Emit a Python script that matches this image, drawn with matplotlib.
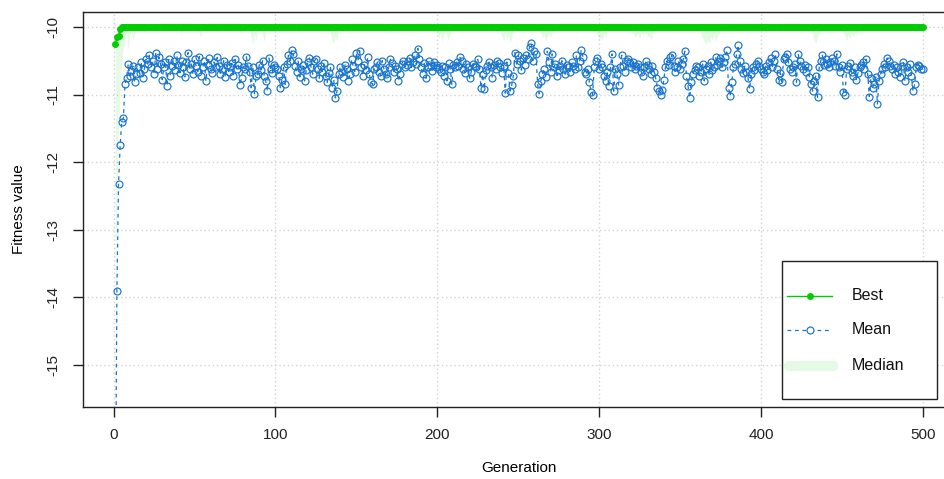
import matplotlib
matplotlib.use("Agg")
import matplotlib.pyplot as plt
from matplotlib.lines import Line2D
from matplotlib.patches import Rectangle
import numpy as np

plt.rcParams['font.family'] = ['Liberation Sans', 'DejaVu Sans']

generations = list(range(1, 501))

best_start = [-10.25, -10.15, -10.13, -10.03]
best = best_start + [-10.0] * (500 - len(best_start))

mean = [
    -17.5, -13.9, -12.32, -11.75, -11.4, -11.35, -10.85, -10.75, -10.55, -10.72, -10.65, -10.58, -10.82, -10.7, -10.6, -10.68, -10.52, -10.75, -10.62, -10.48,
    -10.55, -10.42, -10.6, -10.5, -10.7, -10.38, -10.62, -10.45, -10.55, -10.78, -10.6, -10.52, -10.87, -10.48, -10.72, -10.58, -10.5, -10.64, -10.42, -10.56,
    -10.68, -10.5, -10.6, -10.74, -10.52, -10.38, -10.62, -10.55, -10.7, -10.48, -10.58, -10.66, -10.44, -10.72, -10.6, -10.5, -10.8, -10.56, -10.46, -10.62,
    -10.68, -10.52, -10.6, -10.45, -10.58, -10.7, -10.62, -10.5, -10.74, -10.56, -10.66, -10.6, -10.54, -10.72, -10.48, -10.62, -10.56, -10.86, -10.76, -10.6,
    -10.62, -10.44, -10.58, -10.66, -10.9, -10.6, -10.99, -10.72, -10.7, -10.56, -10.64, -10.5, -10.72, -10.8, -10.95, -10.46, -10.62, -10.68, -10.56, -10.6,
    -10.62, -10.72, -10.9, -10.78, -10.6, -10.85, -10.55, -10.42, -10.5, -10.34, -10.4, -10.58, -10.66, -10.5, -10.74, -10.62, -10.56, -10.8, -10.64, -10.52,
    -10.46, -10.6, -10.7, -10.5, -10.48, -10.62, -10.76, -10.58, -10.66, -10.54, -10.72, -10.82, -10.68, -10.6, -10.9, -10.78, -11.05, -10.95, -10.7, -10.6,
    -10.66, -10.74, -10.56, -10.62, -10.8, -10.7, -10.48, -10.58, -10.66, -10.38, -10.5, -10.35, -10.6, -10.72, -10.56, -10.64, -10.45, -10.7, -10.82, -10.85,
    -10.62, -10.6, -10.52, -10.66, -10.72, -10.5, -10.62, -10.7, -10.76, -10.6, -10.48, -10.54, -10.66, -10.58, -10.62, -10.8, -10.7, -10.55, -10.5, -10.6,
    -10.56, -10.5, -10.46, -10.6, -10.52, -10.42, -10.55, -10.32, -10.48, -10.6, -10.7, -10.54, -10.76, -10.6, -10.5, -10.58, -10.65, -10.52, -10.6, -10.56,
    -10.62, -10.66, -10.58, -10.72, -10.6, -10.8, -10.54, -10.62, -10.85, -10.56, -10.6, -10.52, -10.58, -10.45, -10.5, -10.62, -10.68, -10.55, -10.6, -10.76,
    -10.66, -10.55, -10.58, -10.6, -10.48, -10.62, -10.9, -10.7, -10.92, -10.64, -10.58, -10.52, -10.6, -10.75, -10.56, -10.62, -10.5, -10.54, -10.6, -10.68,
    -10.58, -10.98, -10.52, -10.68, -10.95, -10.86, -10.72, -10.38, -10.55, -10.42, -10.5, -10.64, -10.46, -10.56, -10.42, -10.48, -10.3, -10.24, -10.5, -10.36,
    -10.4, -10.85, -10.99, -10.8, -10.7, -10.62, -10.74, -10.36, -10.52, -10.66, -10.4, -10.6, -10.55, -10.72, -10.64, -10.58, -10.5, -10.62, -10.7, -10.56,
    -10.6, -10.66, -10.52, -10.58, -10.62, -10.42, -10.6, -10.5, -10.34, -10.44, -10.66, -10.7, -10.62, -10.82, -10.96, -11.0, -10.6, -10.5, -10.46, -10.62,
    -10.55, -10.6, -10.72, -10.8, -10.66, -10.88, -10.6, -10.4, -10.95, -10.62, -10.7, -10.86, -10.6, -10.42, -10.58, -10.66, -10.5, -10.48, -10.54, -10.6,
    -10.52, -10.62, -10.58, -10.55, -10.6, -10.66, -10.72, -10.6, -10.5, -10.56, -10.62, -10.7, -10.58, -10.66, -10.76, -10.9, -10.95, -11.0, -10.94, -10.78,
    -10.6, -10.5, -10.56, -10.45, -10.42, -10.58, -10.66, -10.6, -10.5, -10.62, -10.55, -10.48, -10.36, -10.72, -10.88, -11.05, -10.82, -10.7, -10.64, -10.58,
    -10.6, -10.72, -10.66, -10.55, -10.8, -10.62, -10.58, -10.7, -10.52, -10.64, -10.6, -10.45, -10.56, -10.5, -10.46, -10.6, -10.52, -10.44, -10.34, -10.9,
    -11.02, -10.82, -10.6, -10.55, -10.4, -10.27, -10.5, -10.62, -10.68, -10.58, -10.66, -10.75, -10.92, -10.7, -10.6, -10.64, -10.55, -10.5, -10.58, -10.62,
    -10.66, -10.7, -10.58, -10.64, -10.52, -10.46, -10.6, -10.5, -10.4, -10.62, -10.78, -10.68, -10.81, -10.48, -10.44, -10.4, -10.52, -10.62, -10.66, -10.6,
    -10.55, -10.82, -10.4, -10.5, -10.58, -10.62, -10.56, -10.66, -10.6, -10.74, -10.85, -10.95, -10.8, -10.72, -11.04, -10.6, -10.5, -10.42, -10.56, -10.48,
    -10.55, -10.6, -10.52, -10.46, -10.5, -10.58, -10.4, -10.6, -10.66, -10.56, -10.96, -11.0, -10.62, -10.58, -10.54, -10.66, -10.72, -10.6, -10.78, -10.68,
    -10.6, -10.56, -10.52, -10.62, -10.48, -10.7, -11.03, -10.76, -10.9, -10.84, -10.74, -11.14, -10.8, -10.7, -10.62, -10.55, -10.6, -10.46, -10.5, -10.58,
    -10.62, -10.56, -10.7, -10.6, -10.66, -10.74, -10.58, -10.52, -10.8, -10.6, -10.66, -10.55, -10.72, -10.95, -10.85, -10.6, -10.56, -10.58, -10.62, -10.63,
]

median = [
    -14.5, -12.5, -11.5, -10.9, -10.5, -10.3, -10.2, -10.1, -10.35, -10.1, -10.05, -10.2, -10.1, -10.0, -10.0, -10.05, -10.0, -10.0, -10.1, -10.0,
    -10.0, -10.0, -10.05, -10.0, -10.0, -10.0, -10.08, -10.0, -10.0, -10.0, -10.0, -10.1, -10.0, -10.0, -10.0, -10.0, -10.05, -10.0, -10.0, -10.0,
    -10.0, -10.12, -10.0, -10.0, -10.05, -10.0, -10.0, -10.0, -10.0, -10.0, -10.0, -10.0, -10.1, -10.15, -10.0, -10.0, -10.0, -10.0, -10.0, -10.0,
    -10.0, -10.0, -10.0, -10.08, -10.0, -10.0, -10.0, -10.0, -10.0, -10.0, -10.05, -10.0, -10.0, -10.0, -10.0, -10.0, -10.0, -10.1, -10.0, -10.0,
    -10.0, -10.0, -10.0, -10.0, -10.15, -10.27, -10.1, -10.2, -10.05, -10.0, -10.0, -10.12, -10.22, -10.08, -10.0, -10.0, -10.0, -10.0, -10.0, -10.0,
    -10.0, -10.0, -10.0, -10.05, -10.0, -10.0, -10.0, -10.0, -10.0, -10.0, -10.0, -10.0, -10.0, -10.08, -10.0, -10.0, -10.0, -10.0, -10.0, -10.0,
    -10.0, -10.0, -10.0, -10.0, -10.0, -10.0, -10.0, -10.0, -10.0, -10.0, -10.0, -10.0, -10.0, -10.1, -10.2, -10.25, -10.15, -10.22, -10.05, -10.0,
    -10.0, -10.0, -10.0, -10.0, -10.0, -10.0, -10.0, -10.05, -10.0, -10.0, -10.0, -10.0, -10.0, -10.0, -10.0, -10.0, -10.0, -10.0, -10.0, -10.0,
    -10.0, -10.0, -10.0, -10.0, -10.0, -10.0, -10.0, -10.0, -10.0, -10.05, -10.12, -10.0, -10.0, -10.0, -10.0, -10.0, -10.0, -10.0, -10.0, -10.0,
    -10.0, -10.0, -10.0, -10.0, -10.0, -10.0, -10.0, -10.0, -10.0, -10.0, -10.0, -10.0, -10.0, -10.0, -10.0, -10.0, -10.0, -10.0, -10.0, -10.1,
    -10.18, -10.1, -10.22, -10.12, -10.05, -10.15, -10.2, -10.1, -10.0, -10.0, -10.0, -10.0, -10.0, -10.0, -10.0, -10.0, -10.0, -10.0, -10.0, -10.0,
    -10.0, -10.0, -10.0, -10.0, -10.0, -10.0, -10.0, -10.0, -10.0, -10.0, -10.0, -10.0, -10.0, -10.0, -10.0, -10.0, -10.0, -10.0, -10.05, -10.15,
    -10.2, -10.1, -10.18, -10.12, -10.25, -10.15, -10.05, -10.0, -10.0, -10.0, -10.0, -10.0, -10.0, -10.0, -10.0, -10.0, -10.0, -10.0, -10.0, -10.0,
    -10.0, -10.0, -10.0, -10.1, -10.16, -10.12, -10.2, -10.14, -10.1, -10.15, -10.08, -10.0, -10.0, -10.0, -10.0, -10.0, -10.0, -10.0, -10.0, -10.0,
    -10.0, -10.0, -10.0, -10.0, -10.0, -10.0, -10.0, -10.0, -10.0, -10.0, -10.0, -10.0, -10.0, -10.0, -10.0, -10.0, -10.0, -10.05, -10.12, -10.2,
    -10.15, -10.2, -10.1, -10.18, -10.05, -10.0, -10.0, -10.0, -10.0, -10.0, -10.0, -10.0, -10.0, -10.0, -10.0, -10.0, -10.0, -10.0, -10.0, -10.05,
    -10.1, -10.15, -10.12, -10.1, -10.18, -10.08, -10.12, -10.05, -10.1, -10.15, -10.12, -10.2, -10.1, -10.05, -10.0, -10.0, -10.0, -10.0, -10.0, -10.0,
    -10.0, -10.0, -10.0, -10.0, -10.0, -10.0, -10.0, -10.0, -10.0, -10.0, -10.0, -10.0, -10.0, -10.0, -10.0, -10.0, -10.0, -10.0, -10.0, -10.0,
    -10.0, -10.05, -10.1, -10.18, -10.22, -10.27, -10.2, -10.25, -10.15, -10.2, -10.12, -10.22, -10.15, -10.1, -10.05, -10.0, -10.0, -10.0, -10.0, -10.0,
    -10.0, -10.0, -10.0, -10.0, -10.0, -10.0, -10.0, -10.0, -10.0, -10.0, -10.0, -10.0, -10.0, -10.0, -10.0, -10.0, -10.0, -10.0, -10.0, -10.0,
    -10.0, -10.0, -10.0, -10.0, -10.0, -10.0, -10.0, -10.0, -10.0, -10.0, -10.0, -10.0, -10.0, -10.0, -10.0, -10.0, -10.0, -10.0, -10.0, -10.0,
    -10.0, -10.0, -10.0, -10.0, -10.0, -10.0, -10.0, -10.0, -10.0, -10.0, -10.05, -10.12, -10.2, -10.25, -10.15, -10.1, -10.05, -10.0, -10.0, -10.0,
    -10.0, -10.0, -10.0, -10.0, -10.0, -10.0, -10.0, -10.0, -10.0, -10.05, -10.1, -10.15, -10.2, -10.12, -10.18, -10.1, -10.15, -10.08, -10.12, -10.05,
    -10.0, -10.0, -10.0, -10.0, -10.0, -10.0, -10.0, -10.0, -10.0, -10.0, -10.0, -10.0, -10.0, -10.0, -10.0, -10.0, -10.0, -10.0, -10.0, -10.0,
    -10.0, -10.0, -10.0, -10.0, -10.0, -10.0, -10.0, -10.0, -10.0, -10.0, -10.0, -10.0, -10.0, -10.0, -10.0, -10.0, -10.0, -10.0, -10.0, -10.0,
]

x_ticks = [0, 100, 200, 300, 400, 500]
y_ticks = [-15, -14, -13, -12, -11, -10]
legend_labels = ["Best", "Mean", "Median"]

GREEN = "#00CD00"
BLUE = "#1874CD"

W, H = 944, 479
fig = plt.figure(figsize=(W / 100, H / 100), dpi=100)
fig.patch.set_facecolor("white")

left_px, right_px, top_px, bottom_px = 83, 955, 12, 407
ax = fig.add_axes([left_px / W, 1 - bottom_px / H, (right_px - left_px) / W, (bottom_px - top_px) / H])

ax.set_xlim(-18.96, 519.96)
ax.set_ylim(-15.62, -9.78)

ax.set_xticks(x_ticks)
ax.set_yticks(y_ticks)
ax.set_xticklabels([str(v) for v in x_ticks])
ax.set_yticklabels([str(v) for v in y_ticks], rotation=90, va="center")

for v in x_ticks:
    ax.axvline(v, color="#D3D3D3", lw=1.0, ls=(0, (1, 2)), zorder=0)
for v in y_ticks:
    ax.axhline(v, color="#D3D3D3", lw=1.0, ls=(0, (1, 2)), zorder=0)

ax.fill_between(generations, median, best, color=GREEN, alpha=0.1, lw=0, zorder=1)
ax.plot(generations, best, color=GREEN, lw=1.0, marker="o", markersize=5,
        markeredgewidth=0, zorder=3)
ax.plot(generations, mean, color=BLUE, lw=0.9, ls=(0, (3, 3)), marker="o",
        markersize=5, markerfacecolor="none", markeredgecolor=BLUE,
        markeredgewidth=0.85, zorder=4)

for s in ax.spines.values():
    s.set_color("#222222")
    s.set_linewidth(1.0)

ax.tick_params(axis="both", direction="out", length=7, width=1, color="#222222",
               labelsize=11, labelcolor="#222222")
ax.tick_params(axis="x", pad=8)
ax.tick_params(axis="y", pad=9)

ax.set_xlabel("Generation", fontsize=11, labelpad=14)
ax.set_ylabel("Fitness value", fontsize=11, labelpad=15)

# legend (drawn in figure pixel coordinates)
def fx(px):
    return px / W

def fy(py):
    return 1 - py / H

fig.patches.append(Rectangle((fx(782), fy(399)), fx(937) - fx(782), fy(261) - fy(399),
                             transform=fig.transFigure, fill=True, facecolor="white",
                             edgecolor="#222222", lw=1.0, zorder=10))
rows = [296, 330, 366]
x0, x1 = 787, 832
fig.add_artist(Line2D([fx(x0), fx(x1)], [fy(rows[0])] * 2, color=GREEN, lw=1.0, zorder=11))
fig.add_artist(Line2D([fx((x0 + x1) / 2)], [fy(rows[0])], color=GREEN, marker="o",
                      markersize=5, markeredgewidth=0, zorder=12))
fig.add_artist(Line2D([fx(x0), fx(x1)], [fy(rows[1])] * 2, color=BLUE, lw=0.9,
                      ls=(0, (3, 3)), zorder=11))
fig.add_artist(Line2D([fx((x0 + x1) / 2)], [fy(rows[1])], color=BLUE, marker="o",
                      markersize=5, markerfacecolor="white", markeredgewidth=0.85, zorder=12))
fig.add_artist(Line2D([fx(x0 + 2), fx(x1 + 1)], [fy(rows[2])] * 2, color=GREEN, alpha=0.1,
                      lw=7.5, solid_capstyle="round", zorder=11))
for r, lab in zip(rows, legend_labels):
    fig.text(fx(852), fy(r), lab, fontsize=11.5, va="center", ha="left", color="#111111", zorder=12)

fig.savefig("out.png", dpi=100)
